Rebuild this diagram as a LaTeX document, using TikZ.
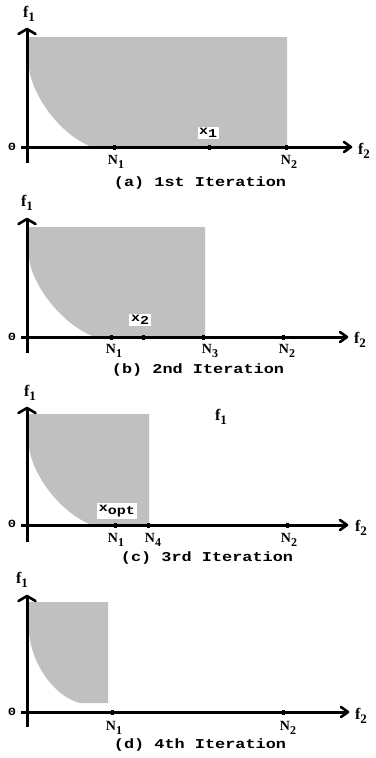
\documentclass[tikz,border=0pt]{standalone}
\usepackage{fontspec}
\usepackage{graphicx}
\newfontfamily\fserif{Liberation Serif}
\newfontfamily\capfont[FakeStretch=1.25]{Liberation Mono}
\definecolor{regiongray}{HTML}{C0C0C0}
\newcommand{\fsub}[1]{f\raisebox{-4pt}{\fontsize{13}{13}\selectfont #1}}
\newcommand{\Nlab}[1]{{\fserif\bfseries\fontsize{14}{14}\selectfont N\raisebox{-4pt}{\fontsize{12}{12}\selectfont #1}}}
\newcommand{\xlab}[1]{{\capfont\bfseries\fontsize{12}{12}\selectfont x\raisebox{-3.5pt}{#1}}}
\newcommand{\captext}[1]{{\capfont\bfseries\fontsize{13.5}{13.5}\selectfont #1}}
\tikzset{
  axisline/.style={line width=3pt},
  tipline/.style={line width=2.6pt, line cap=round, line join=round},
  region/.style={fill=regiongray},
  tickmark/.style={fill=black, inner sep=0pt, minimum width=3pt, minimum height=5pt},
  flab/.style={font=\fserif\bfseries\fontsize{16}{16}\selectfont, inner sep=0pt},
  zerolab/.style={font=\capfont\bfseries\fontsize{11}{11}\selectfont, inner sep=0pt},
  nlab/.style={inner sep=0pt},
  xbox/.style={fill=white, inner sep=1.5pt},
  caption/.style={inner sep=0pt}
}
\begin{document}
\begin{tikzpicture}[x=1pt,y=-1pt]
\useasboundingbox (0,0) rectangle (375,758);

% ---------- (a) ----------
\fill[region] (27,37) -- (287,37) -- (287,147) -- (92,147) .. controls (60,135) and (32,95) .. (29,68) -- cycle;
\coordinate (a-ybot) at (27,163);
\coordinate (a-ytop) at (27,29);
\coordinate (a-xl) at (21,147);
\coordinate (a-xr) at (351,147);
\draw[axisline] (a-ybot) -- (a-ytop);
\draw[axisline] (a-xl) -- (a-xr);
\draw[tipline] ([xshift=-8.5pt,yshift=-5pt]a-ytop) -- (a-ytop) -- ([xshift=8.5pt,yshift=-5pt]a-ytop);
\draw[tipline] ([xshift=-7pt,yshift=5pt]a-xr) -- (a-xr) -- ([xshift=-7pt,yshift=-5pt]a-xr);
\node[tickmark] (a-t1) at (114,147) {};
\node[tickmark] (a-tx) at (209,147) {};
\node[tickmark] (a-t2) at (286,147) {};
\node[flab] (a-f1) at (29,14) {\fsub{1}};
\node[flab] (a-f2) at (364,151) {\fsub{2}};
\node[zerolab] (a-0) at (12,147) {0};
\node[nlab] (a-n1) at (116,162) {\Nlab{1}};
\node[nlab] (a-n2) at (289,162) {\Nlab{2}};
\node[xbox] (a-x) at (208,133) {\xlab{1}};
\node[caption] (a-cap) at (200,183) {\captext{(a) 1st Iteration}};

% ---------- (b) ----------
\fill[region] (27,227) -- (205,227) -- (205,337) -- (95,337) .. controls (62,325) and (32,285) .. (29,258) -- cycle;
\coordinate (b-ybot) at (27,353);
\coordinate (b-ytop) at (27,219);
\coordinate (b-xl) at (21,337);
\coordinate (b-xr) at (347,337);
\draw[axisline] (b-ybot) -- (b-ytop);
\draw[axisline] (b-xl) -- (b-xr);
\draw[tipline] ([xshift=-8.5pt,yshift=-5pt]b-ytop) -- (b-ytop) -- ([xshift=8.5pt,yshift=-5pt]b-ytop);
\draw[tipline] ([xshift=-7pt,yshift=5pt]b-xr) -- (b-xr) -- ([xshift=-7pt,yshift=-5pt]b-xr);
\node[tickmark] (b-t1) at (111,337) {};
\node[tickmark] (b-tx) at (143,337) {};
\node[tickmark] (b-t3) at (203,337) {};
\node[tickmark] (b-t2) at (283,337) {};
\node[flab] (b-f1) at (27,203) {\fsub{1}};
\node[flab] (b-f2) at (360,340) {\fsub{2}};
\node[zerolab] (b-0) at (12,337) {0};
\node[nlab] (b-n1) at (114,351) {\Nlab{1}};
\node[nlab] (b-n3) at (210,351) {\Nlab{3}};
\node[nlab] (b-n2) at (287,351) {\Nlab{2}};
\node[xbox] (b-x) at (140,320) {\xlab{2}};
\node[caption] (b-cap) at (198,370) {\captext{(b) 2nd Iteration}};

% ---------- (c) ----------
\fill[region] (27,414) -- (149,414) -- (149,525) -- (92,525) .. controls (60,513) and (32,474) .. (29,447) -- cycle;
\coordinate (c-ybot) at (27,542);
\coordinate (c-ytop) at (27,408);
\coordinate (c-xl) at (21,525);
\coordinate (c-xr) at (347,525);
\draw[axisline] (c-ybot) -- (c-ytop);
\draw[axisline] (c-xl) -- (c-xr);
\draw[tipline] ([xshift=-8.5pt,yshift=-5pt]c-ytop) -- (c-ytop) -- ([xshift=8.5pt,yshift=-5pt]c-ytop);
\draw[tipline] ([xshift=-7pt,yshift=5pt]c-xr) -- (c-xr) -- ([xshift=-7pt,yshift=-5pt]c-xr);
\node[tickmark] (c-t1) at (115,525) {};
\node[tickmark] (c-t4) at (148,525) {};
\node[tickmark] (c-t2) at (287,525) {};
\node[flab] (c-f1) at (30,393) {\fsub{1}};
\node[flab] (c-f1b) at (221,417) {\fsub{1}};
\node[flab] (c-f2) at (361,528) {\fsub{2}};
\node[zerolab] (c-0) at (12,524) {0};
\node[nlab] (c-n1) at (116,540) {\Nlab{1}};
\node[nlab] (c-n4) at (153,540) {\Nlab{4}};
\node[nlab] (c-n2) at (289,540) {\Nlab{2}};
\node[xbox] (c-x) at (117,511) {\xlab{opt}};
\node[caption] (c-cap) at (207,558) {\captext{(c) 3rd Iteration}};

% ---------- (d) ----------
\fill[region] (27,602) -- (108,602) -- (108,703) -- (80,703) .. controls (55,697) and (32,665) .. (29,633) -- cycle;
\coordinate (d-ybot) at (27,727);
\coordinate (d-ytop) at (27,596);
\coordinate (d-xl) at (21,712);
\coordinate (d-xr) at (348,712);
\draw[axisline] (d-ybot) -- (d-ytop);
\draw[axisline] (d-xl) -- (d-xr);
\draw[tipline] ([xshift=-8.5pt,yshift=-5pt]d-ytop) -- (d-ytop) -- ([xshift=8.5pt,yshift=-5pt]d-ytop);
\draw[tipline] ([xshift=-7pt,yshift=5pt]d-xr) -- (d-xr) -- ([xshift=-7pt,yshift=-5pt]d-xr);
\node[tickmark] (d-t1) at (112,712) {};
\node[tickmark] (d-t2) at (283,712) {};
\node[flab] (d-f1) at (22,580) {\fsub{1}};
\node[flab] (d-f2) at (361,716) {\fsub{2}};
\node[zerolab] (d-0) at (12,712) {0};
\node[nlab] (d-n1) at (114,728) {\Nlab{1}};
\node[nlab] (d-n2) at (288,728) {\Nlab{2}};
\node[caption] (d-cap) at (200,745) {\captext{(d) 4th Iteration}};
\end{tikzpicture}
\end{document}
